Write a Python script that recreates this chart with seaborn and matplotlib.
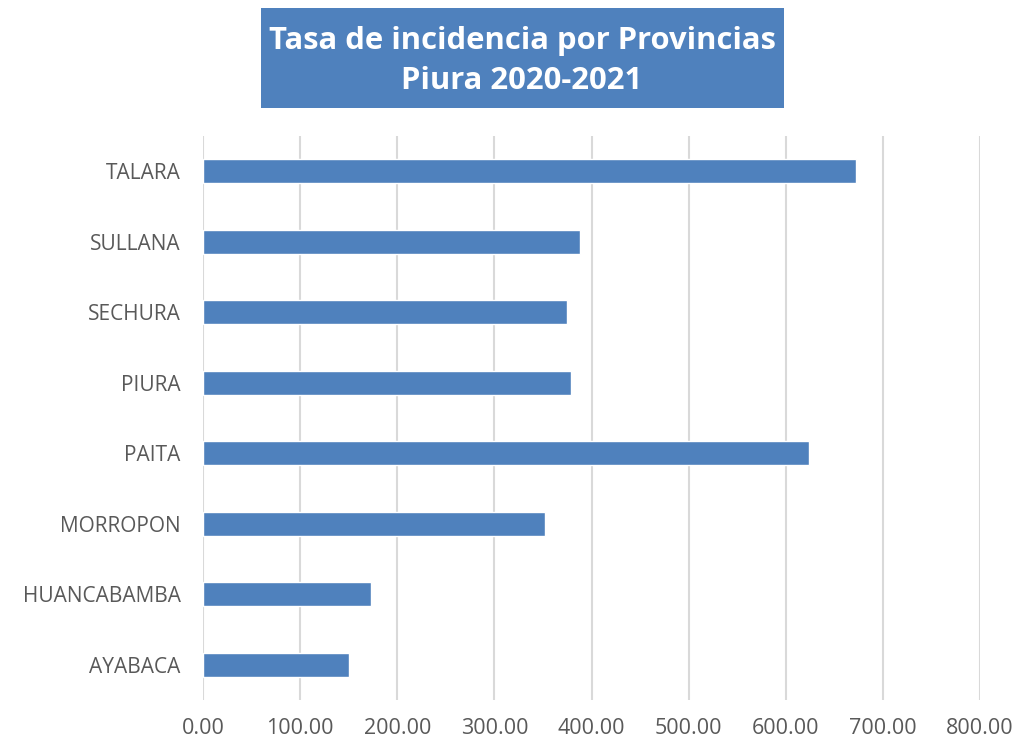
"""Tasa de incidencia por provincias - Piura 2020-2021"""

import pandas as pd
import seaborn as sns
import matplotlib.pyplot as plt
from matplotlib.patches import Rectangle
from matplotlib.ticker import FormatStrFormatter

sns.set_theme(style="white")
plt.rcParams["font.family"] = ["Open Sans", "DejaVu Sans"]

provincias = ["TALARA", "SULLANA", "SECHURA", "PIURA", "PAITA",
              "MORROPON", "HUANCABAMBA", "AYABACA"]
tasa = [671.8, 388.0, 374.8, 379.0, 623.5, 352.2, 172.8, 150.5]

data = pd.DataFrame({"Provincia": provincias, "Tasa": tasa})

fig = plt.figure(figsize=(10.16, 7.4), dpi=100)
ax = fig.add_axes([0.1998, 0.054, 0.7648, 0.7622])

sns.barplot(
    x="Tasa",
    y="Provincia",
    data=data,
    order=provincias,
    orient="h",
    color="#4F81BD",
    saturation=1,
    width=0.34,
    ax=ax,
)

ax.set_xlim(0, 800)
ax.set_xticks(range(0, 801, 100))
ax.xaxis.set_major_formatter(FormatStrFormatter("%.2f"))
ax.grid(axis="x", color="#d9d9d9", linewidth=1.5)
ax.set_axisbelow(True)
for s in ax.spines.values():
    s.set_visible(False)
ax.set_xlabel("")
ax.set_ylabel("")
ax.tick_params(axis="both", length=0, labelcolor="#595959")
ax.tick_params(axis="x", pad=13, labelsize=15.5)
ax.tick_params(axis="y", pad=16, labelsize=15)

# title box
fig.patches.append(Rectangle((261 / 1016, 1 - 108 / 740), 523 / 1016, 100 / 740,
                             transform=fig.transFigure, facecolor="#4F81BD",
                             edgecolor="none", zorder=0))
fig.text(522 / 1016, 1 - 61 / 740, "Tasa de incidencia por Provincias\nPiura 2020-2021",
         ha="center", va="center", color="white", fontsize=22.3, fontweight="bold",
         linespacing=1.42)

fig.savefig("out.png", dpi=100)
